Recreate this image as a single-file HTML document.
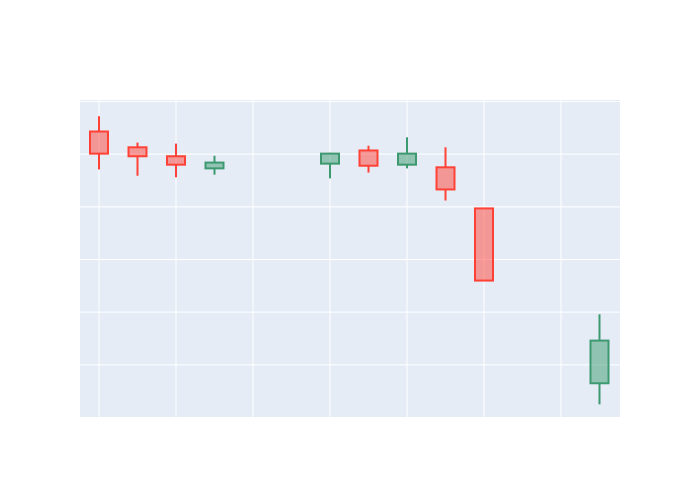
<!DOCTYPE html>
<html><head><meta charset="utf-8"><style>body{margin:0;background:#fff}svg{display:block}</style></head>
<body>
<svg id="chart" width="700" height="500">
<rect x="0" y="0" width="700" height="500" fill="#fff"/>
<rect x="80" y="100" width="540" height="318" fill="#e5ecf6"/>
<g id="grid"></g><g id="candles"></g>
</svg>
<script>
const days = [0,1,2,3,6,7,8,9,10,13];
const opens = [5.43,5.13,4.96,4.73,4.82,5.07,4.80,4.75,3.97,0.65];
const highs = [5.72,5.22,5.20,4.97,5.03,5.16,5.32,5.13,3.97,1.96];
const lows  = [4.71,4.59,4.56,4.61,4.54,4.65,4.73,4.12,2.60,0.25];
const closes= [5.01,4.96,4.80,4.84,5.01,4.78,5.01,4.33,2.60,1.46];
const yTicks = [0,1,2,3,4,5,6];
const xTicks = [0,2,4,6,8,10,12];
const NS='http://www.w3.org/2000/svg';
const xs = i => 99 + 38.5*i;
const ys = v => 417.5 - v*52.67;
const grid=document.getElementById('grid'), cg=document.getElementById('candles');
function mk(tag,at,parent){const e=document.createElementNS(NS,tag);for(const k in at)e.setAttribute(k,at[k]);parent.appendChild(e);return e;}
yTicks.forEach(t=>{const l=mk('line',{x1:80,x2:620,y1:ys(t),y2:ys(t),stroke:'#fff','stroke-width':1},grid);

});
xTicks.forEach(t=>{const l=mk('line',{x1:xs(t),x2:xs(t),y1:100,y2:418,stroke:'#fff','stroke-width':1},grid);

});
days.forEach((d,i)=>{
 const up=closes[i]>=opens[i], col=up?'#3D9970':'#FF4136';
 const g=mk('g',{},cg);
 
 
 const x=xs(d), top=ys(Math.max(opens[i],closes[i])), bot=ys(Math.min(opens[i],closes[i]));
 mk('line',{x1:x,x2:x,y1:ys(highs[i]),y2:top,stroke:col,'stroke-width':2},g);
 mk('line',{x1:x,x2:x,y1:bot,y2:ys(lows[i]),stroke:col,'stroke-width':2},g);
 mk('rect',{x:x-9,y:top,width:18,height:Math.max(bot-top,1),fill:col,'fill-opacity':0.5,stroke:col,'stroke-width':2},g);
});
</script>
</body></html>
